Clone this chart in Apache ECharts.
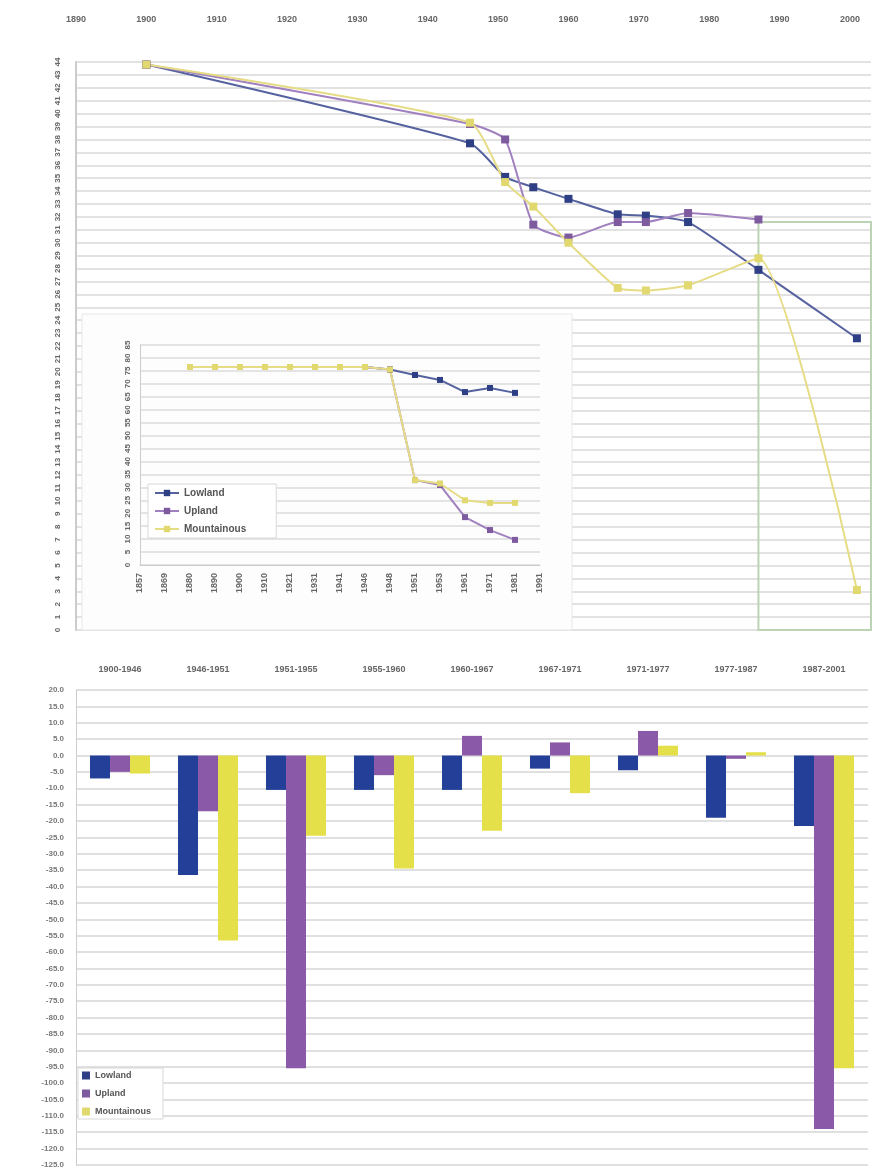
<!DOCTYPE html>
<html>
<head>
<meta charset="utf-8">
<script src="https://cdn.jsdelivr.net/npm/echarts@6/dist/echarts.min.js"></script>
<style>
  html, body { margin: 0; padding: 0; background: #fff; }
  #chart { width: 895px; height: 1176px; }
</style>
</head>
<body>
<div id="chart"></div>
<script>
// series names (legend)
const seriesNames = ['Lowland', 'Upland', 'Mountainous'];

// top chart: census years and shares
const censusYears = [1900, 1946, 1951, 1955, 1960, 1967, 1971, 1977, 1987, 2001];
const lowlandShare = [43.8, 37.7, 35.1, 34.3, 33.4, 32.2, 32.1, 31.6, 27.9, 22.6];
const uplandShare = [43.8, 39.2, 38.0, 31.4, 30.4, 31.6, 31.6, 32.3, 31.8, null];
const mountainShare = [43.8, 39.3, 34.7, 32.8, 30.0, 26.5, 26.3, 26.7, 28.8, 3.1];

// highlighted window on the top chart
const highlightFrom = 1987;
const highlightTo = 2003;
const highlightTop = 31.6;

// inset chart
const insetYears = ['1857', '1869', '1880', '1890', '1900', '1910', '1921', '1931', '1941', '1946',
  '1948', '1951', '1953', '1961', '1971', '1981', '1991'];
const insetLowland = [null, null, 76.5, 76.5, 76.5, 76.5, 76.5, 76.5, 76.5, 76.5, 75.5, 73.4, 71.5, 66.8, 68.4, 66.5, null];
const insetUpland = [null, null, 76.5, 76.5, 76.5, 76.5, 76.5, 76.5, 76.5, 76.5, 75.5, 32.8, 30.9, 18.5, 13.5, 9.7, null];
const insetMountain = [null, null, 76.5, 76.5, 76.5, 76.5, 76.5, 76.5, 76.5, 76.5, 75.5, 32.8, 31.5, 25.0, 24.0, 24.0, null];

// bar chart: change per period (%)
const periods = ['1900-1946', '1946-1951', '1951-1955', '1955-1960', '1960-1967',
  '1967-1971', '1971-1977', '1977-1987', '1987-2001'];
const lowlandChange = [-7, -36.5, -10.5, -10.5, -10.5, -4, -4.5, -19, -21.5];
const uplandChange = [-5, -17, -95.5, -6, 6, 4, 7.5, -1, -114];
const mountainChange = [-5.5, -56.5, -24.5, -34.5, -23, -11.5, 3, 1, -95.5];

const barColors = ['#243f98', '#8a5aa8', '#e4e04a'];
const lineColors = ['#55629f', '#a080bf', '#e6dc86'];
const markerColors = ['#2e3f85', '#7e5a9e', '#e2d870'];
const fontFamily = "'Liberation Sans', Arial, sans-serif";

const pairs = vals => censusYears.map((y, i) => [y, vals[i]]);

const chart = echarts.init(document.getElementById('chart'));

const topLine = (idx, vals) => ({
  name: seriesNames[idx],
  type: 'line',
  xAxisIndex: 0,
  yAxisIndex: 0,
  data: pairs(vals),
  smooth: 0.18,
  connectNulls: false,
  symbol: 'rect',
  symbolSize: 8,
  lineStyle: { width: 2, color: lineColors[idx] },
  itemStyle: { color: markerColors[idx] }
});

const insetLine = (idx, vals) => ({
  name: seriesNames[idx],
  type: 'line',
  xAxisIndex: 1,
  yAxisIndex: 1,
  z: 5,
  data: vals,
  symbol: 'rect',
  symbolSize: 6,
  lineStyle: { width: 2, color: lineColors[idx] },
  itemStyle: { color: markerColors[idx] }
});

const barSeries = (idx, vals) => ({
  name: seriesNames[idx],
  type: 'bar',
  xAxisIndex: 2,
  yAxisIndex: 2,
  data: vals,
  barWidth: 20,
  barGap: '0%',
  itemStyle: { color: barColors[idx] }
});

const mainSeries = topLine(0, lowlandShare);
mainSeries.markArea = {
  silent: true,
  itemStyle: { color: 'rgba(0,0,0,0)', borderColor: '#bcd3b4', borderWidth: 2 },
  data: [[{ xAxis: highlightFrom, yAxis: 0 }, { xAxis: highlightTo, yAxis: highlightTop }]]
};

chart.setOption({
  animation: false,
  textStyle: { fontFamily },
  grid: [
    { left: 76, right: 24, top: 62, height: 568 },
    { left: 140, top: 345, width: 400, height: 220, z: 3 },
    { left: 76, right: 27, top: 690, height: 475 }
  ],
  graphic: [{
    type: 'rect',
    z: 2,
    shape: { x: 82, y: 314, width: 490, height: 316 },
    style: { fill: '#fdfdfd', stroke: '#e8e8e8', lineWidth: 1 }
  }],
  legend: [
    {
      data: seriesNames,
      orient: 'vertical',
      left: 148,
      top: 484,
      z: 6,
      itemGap: 8,
      itemWidth: 24,
      itemHeight: 8,
      backgroundColor: '#fff',
      borderColor: '#d8d8d8',
      borderWidth: 1,
      padding: [4, 30, 4, 6],
      textStyle: { fontSize: 10, color: '#555', fontWeight: 'bold' }
    },
    {
      data: seriesNames,
      orient: 'vertical',
      left: 78,
      top: 1068,
      icon: 'rect',
      itemGap: 9,
      itemWidth: 8,
      itemHeight: 8,
      backgroundColor: '#fff',
      borderColor: '#d8d8d8',
      borderWidth: 1,
      padding: [3, 12, 3, 4],
      textStyle: { fontSize: 9, color: '#555', fontWeight: 'bold' }
    }
  ],
  xAxis: [
    {
      type: 'value',
      gridIndex: 0,
      position: 'top',
      min: 1890,
      max: 2003,
      interval: 10,
      axisLine: { show: false },
      axisTick: { show: false },
      splitLine: { show: false },
      axisLabel: {
        margin: 38, fontSize: 9, fontWeight: 'bold', color: '#666', showMaxLabel: false,
        formatter: v => String(v)
      }
    },
    {
      type: 'category',
      gridIndex: 1,
      data: insetYears,
      boundaryGap: false,
      z: 3,
      axisLine: { lineStyle: { color: '#ccc' } },
      axisTick: { show: false },
      axisLabel: { rotate: 90, fontSize: 9, fontWeight: 'bold', color: '#666', margin: 8 }
    },
    {
      type: 'category',
      gridIndex: 2,
      data: periods,
      position: 'top',
      axisLine: { show: false, onZero: false },
      axisTick: { show: false },
      axisLabel: { margin: 16, fontSize: 9, fontWeight: 'bold', color: '#666' }
    }
  ],
  yAxis: [
    {
      type: 'value',
      gridIndex: 0,
      min: 0,
      max: 44,
      interval: 1,
      axisLine: { show: true, lineStyle: { color: '#ccc', width: 2 } },
      axisTick: { show: false },
      splitLine: { lineStyle: { color: '#e2e2e2', width: 2 } },
      axisLabel: { rotate: 90, fontSize: 8, fontWeight: 'bold', color: '#666', margin: 14 }
    },
    {
      type: 'value',
      gridIndex: 1,
      min: 0,
      max: 85,
      interval: 5,
      z: 3,
      axisLine: { show: true, lineStyle: { color: '#ccc' } },
      axisTick: { show: false },
      splitLine: { lineStyle: { color: '#e4e4e4', width: 2 } },
      axisLabel: { rotate: 90, fontSize: 8, fontWeight: 'bold', color: '#666', margin: 8 }
    },
    {
      type: 'value',
      gridIndex: 2,
      min: -125,
      max: 20,
      interval: 5,
      axisLine: { show: true, lineStyle: { color: '#ccc' } },
      axisTick: { show: false },
      splitLine: { lineStyle: { color: '#e0e0e0', width: 2 } },
      axisLabel: { fontSize: 8, fontWeight: 'bold', color: '#777', margin: 12, formatter: v => v.toFixed(1) }
    }
  ],
  series: [
    mainSeries,
    topLine(1, uplandShare),
    topLine(2, mountainShare),
    insetLine(0, insetLowland),
    insetLine(1, insetUpland),
    insetLine(2, insetMountain),
    barSeries(0, lowlandChange),
    barSeries(1, uplandChange),
    barSeries(2, mountainChange)
  ]
});
</script>
</body>
</html>
